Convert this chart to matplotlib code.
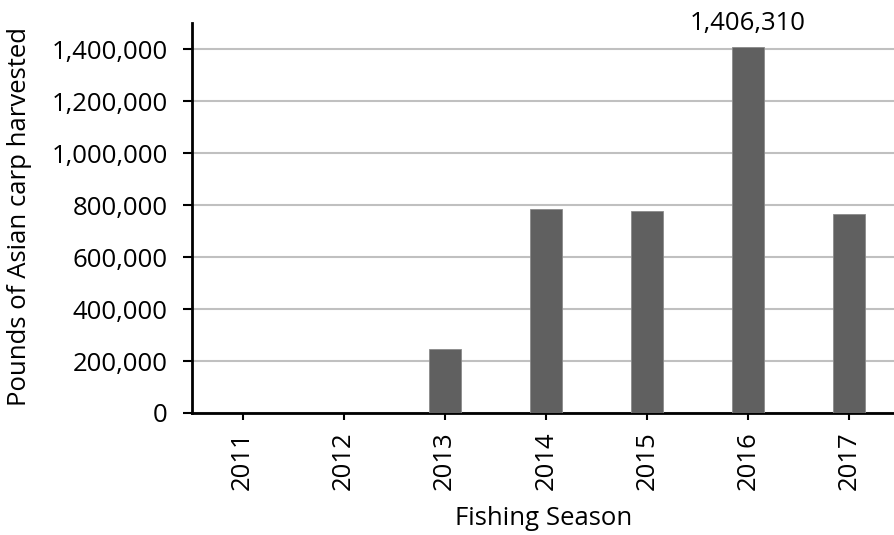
import matplotlib.pyplot as plt
from matplotlib.ticker import FuncFormatter

seasons = ["2011", "2012", "2013", "2014", "2015", "2016", "2017"]
pounds = [0, 0, 245000, 783500, 775800, 1406310, 765400]
label_season = "2016"

plt.rcParams['font.family'] = ['Open Sans', 'DejaVu Sans']
fs = 18.5

fig = plt.figure(figsize=(8.95, 5.35), dpi=100)
ax = fig.add_axes([192 / 895, 122 / 535, 703 / 895, 390 / 535])

x = range(len(seasons))
ax.bar(x, pounds, width=0.316, color="#606060", edgecolor="#8a8a8a", linewidth=0.6, zorder=3)

ax.set_xlim(-0.5, 6.455)
ax.set_ylim(0, 1500000)
ax.set_yticks(range(0, 1400001, 200000))
ax.yaxis.set_major_formatter(FuncFormatter(lambda v, p: f"{int(v):,}"))
ax.set_xticks(list(x))
ax.set_xticklabels(seasons, rotation=90)

ax.grid(axis="y", color="#c0c0c0", linewidth=1.5, zorder=0)
ax.set_axisbelow(True)
for s in ["top", "right"]:
    ax.spines[s].set_visible(False)
for s in ["left", "bottom"]:
    ax.spines[s].set_linewidth(2)
    ax.spines[s].set_color("black")

ax.tick_params(axis="y", direction="out", length=6.5, width=1.5, labelsize=fs, pad=11)
ax.tick_params(axis="x", direction="out", length=5, width=1.5, labelsize=fs, pad=8)

ax.set_ylabel("Pounds of Asian carp harvested", fontsize=fs)
ax.set_xlabel("Fishing Season", fontsize=fs)
ax.yaxis.set_label_coords(-0.245, 0.505)
ax.xaxis.set_label_coords(0.5, -0.27)
ax.xaxis.label.set_va("center")
ax.yaxis.label.set_va("center")

i = seasons.index(label_season)
ax.annotate(f"{pounds[i]:,}", (i, pounds[i]), xytext=(0, 8), textcoords="offset points",
            ha="center", va="bottom", fontsize=fs, annotation_clip=False)

fig.savefig("out.png", dpi=100)
